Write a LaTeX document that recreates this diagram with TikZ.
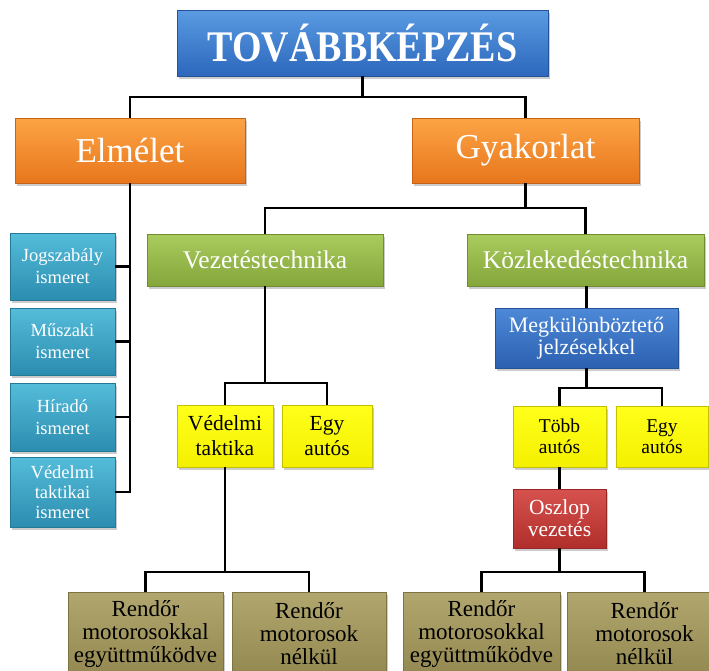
\documentclass[tikz,border=0pt]{standalone}
\usepackage{fontspec}
\usepackage{graphicx}
\setmainfont{Liberation Serif}
\usetikzlibrary{shadows}

\definecolor{blueA}{HTML}{5A9BE2}
\definecolor{blueB}{HTML}{2C67BC}
\definecolor{orangeA}{HTML}{FCA445}
\definecolor{orangeB}{HTML}{E8761C}
\definecolor{greenA}{HTML}{AACB5E}
\definecolor{greenB}{HTML}{84A63A}
\definecolor{cyanA}{HTML}{55BCDA}
\definecolor{cyanB}{HTML}{2B8DB0}
\definecolor{midblueA}{HTML}{4D89D8}
\definecolor{midblueB}{HTML}{2C60B0}
\definecolor{yellowA}{HTML}{FFFF1A}
\definecolor{yellowB}{HTML}{F4F000}
\definecolor{redA}{HTML}{D6524E}
\definecolor{redB}{HTML}{B02E2B}
\definecolor{oliveA}{HTML}{B0A66E}
\definecolor{oliveB}{HTML}{938950}

\begin{document}
\begin{tikzpicture}[x=1pt,y=-1pt,
  box/.style={rectangle, inner sep=0pt, align=center,
    drop shadow={opacity=0.4, shadow xshift=1.5pt, shadow yshift=-2.5pt}},
  bluebox/.style={box, top color=blueA, bottom color=blueB, draw=blueB!80!black, line width=0.5pt, text=white},
  orangebox/.style={box, top color=orangeA, bottom color=orangeB, draw=orangeB!85!black, line width=0.5pt, text=white},
  greenbox/.style={box, top color=greenA, bottom color=greenB, draw=greenB!85!black, line width=0.5pt, text=white},
  cyanbox/.style={box, top color=cyanA, bottom color=cyanB, draw=cyanB!85!black, line width=0.5pt, text=white},
  midbluebox/.style={box, top color=midblueA, bottom color=midblueB, draw=midblueB!85!black, line width=0.5pt, text=white},
  yellowbox/.style={box, top color=yellowA, bottom color=yellowB, draw=yellowB!80!black, line width=0.5pt, text=black},
  redbox/.style={box, top color=redA, bottom color=redB, draw=redB!85!black, line width=0.5pt, text=white},
  olivebox/.style={box, top color=oliveA, bottom color=oliveB, draw=oliveB!85!black, line width=0.5pt, text=black},
  wire/.style={line width=2.4pt, black}
]
\useasboundingbox[fill=white] (0,0) rectangle (709,670);

% top level
\node[bluebox, minimum width=371pt, minimum height=66pt,
      font=\fontsize{38}{40}\selectfont\bfseries] (top) at (362.5,43)
      {\scalebox{1}[1.15]{TOVÁBBKÉPZÉS}};

% second level
\node[orangebox, minimum width=230pt, minimum height=65pt,
      font=\fontsize{35}{38}\selectfont] (elm) at (130,150.5) {Elmélet};
\node[orangebox, minimum width=227pt, minimum height=65pt,
      font=\fontsize{35}{38}\selectfont] (gyak) at (525.5,150.5) {Gyakorlat};

% theory column
\node[cyanbox, minimum width=105pt, minimum height=67pt,
      font=\fontsize{18.5}{22}\selectfont] (b1) at (62.5,266.5) {Jogszabály\\ismeret};
\node[cyanbox, minimum width=105pt, minimum height=67pt,
      font=\fontsize{18.5}{22}\selectfont] (b2) at (62.5,341.5) {Műszaki\\ismeret};
\node[cyanbox, minimum width=105pt, minimum height=68pt,
      font=\fontsize{18.5}{22}\selectfont] (b3) at (62.5,417) {Híradó\\ismeret};
\node[cyanbox, minimum width=105pt, minimum height=70pt,
      font=\fontsize{18.5}{20}\selectfont] (b4) at (62.5,492) {Védelmi\\taktikai\\ismeret};

% practice branches
\node[greenbox, minimum width=236pt, minimum height=52pt,
      font=\fontsize{25.5}{28}\selectfont] (vez) at (265,260) {Vezetéstechnika};
\node[greenbox, minimum width=237pt, minimum height=52pt,
      font=\fontsize{25.5}{28}\selectfont] (kozl) at (585.5,260) {Közlekedéstechnika};

\node[yellowbox, minimum width=96pt, minimum height=62pt,
      font=\fontsize{21.5}{25}\selectfont] (vt) at (225,436) {Védelmi\\taktika};
\node[yellowbox, minimum width=90pt, minimum height=62pt,
      font=\fontsize{21.5}{25}\selectfont] (egy1) at (327,436) {Egy\\autós};

\node[midbluebox, minimum width=183pt, minimum height=60pt,
      font=\fontsize{22}{22}\selectfont] (megk) at (586.5,338) {Megkülönböztető\\jelzésekkel};

\node[yellowbox, minimum width=93pt, minimum height=61pt,
      font=\fontsize{19.5}{21}\selectfont] (tobb) at (559.5,436.5) {Több\\autós};
\node[yellowbox, minimum width=92pt, minimum height=61pt,
      font=\fontsize{19.5}{21}\selectfont] (egy2) at (662,436.5) {Egy\\autós};

\node[redbox, minimum width=93pt, minimum height=59pt,
      font=\fontsize{21.5}{22}\selectfont] (osz) at (559.5,518.5) {Oszlop\\vezetés};

% bottom row (runs past the lower edge of the page)
\node[olivebox, minimum width=155pt, minimum height=84pt,
      font=\fontsize{23}{23}\selectfont] (bA) at (145.5,634) {Rendőr\\motorosokkal\\együttműködve};
\node[olivebox, minimum width=154pt, minimum height=84pt,
      font=\fontsize{23}{23}\selectfont] (bB) at (309,634) {Rendőr\\motorosok\\nélkül};
\node[olivebox, minimum width=157pt, minimum height=84pt,
      font=\fontsize{23}{23}\selectfont] (bC) at (481.5,634) {Rendőr\\motorosokkal\\együttműködve};
\node[olivebox, minimum width=155pt, minimum height=84pt,
      font=\fontsize{23}{23}\selectfont] (bD) at (644.5,634) {Rendőr\\motorosok\\nélkül};

% connectors
\draw[wire] (elm.north) -- ++(0,-21) coordinate (bus1) -| (gyak.north);
\draw[wire] (top.south) -- (top.south |- bus1);

\draw[wire] (elm.south) -- (elm.south |- b4.east) -- (b4.east);
\draw[wire] (b1.east) -- (b1.east -| elm.south);
\draw[wire] (b2.east) -- (b2.east -| elm.south);
\draw[wire] (b3.east) -- (b3.east -| elm.south);

\draw[wire] (vez.north) -- ++(0,-26) coordinate (bus2) -| (kozl.north);
\draw[wire] (gyak.south) -- (gyak.south |- bus2);

\draw[wire] (vt.north) -- ++(0,-22) coordinate (bus3) -| (egy1.north);
\draw[wire] (vez.south) -- (vez.south |- bus3);

\draw[wire] (megk.north) -- (megk.north |- kozl.south);

\draw[wire] (tobb.north) -- ++(0,-18) coordinate (bus4) -| (egy2.north);
\draw[wire] (megk.south) -- (megk.south |- bus4);

\draw[wire] (tobb.south) -- (osz.north);

\draw[wire] (bA.north) -- ++(0,-20) coordinate (bus5) -| (bB.north);
\draw[wire] (vt.south) -- (vt.south |- bus5);

\draw[wire] (bC.north) -- ++(0,-20) coordinate (bus6) -| (bD.north);
\draw[wire] (osz.south) -- (osz.south |- bus6);
\end{tikzpicture}
\end{document}
